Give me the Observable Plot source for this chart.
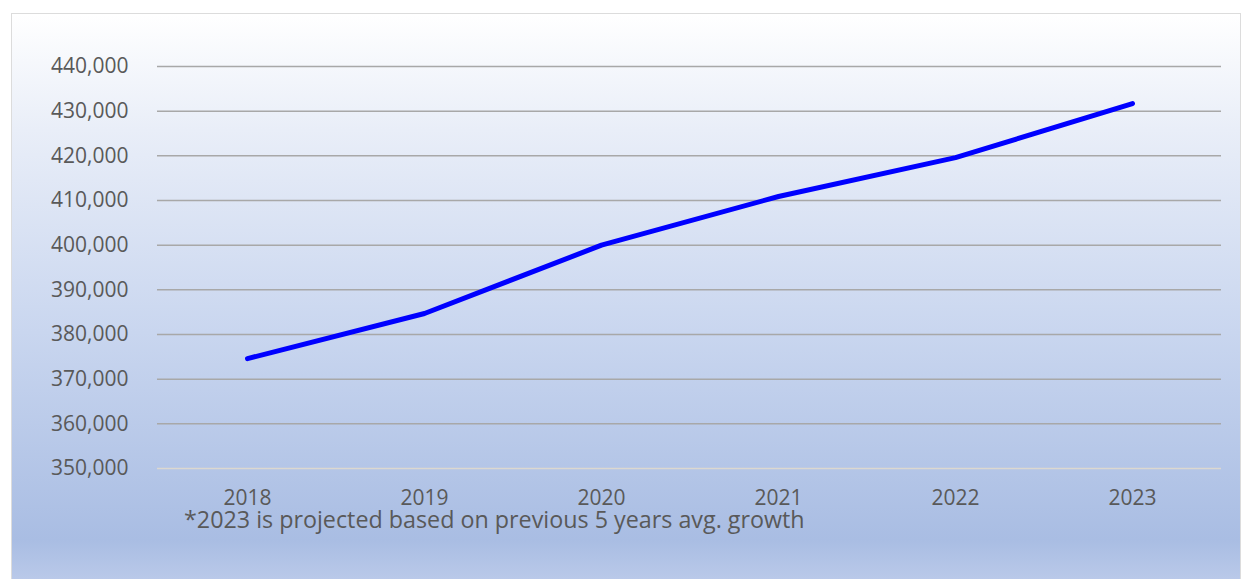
<!DOCTYPE html>
<html>
<head>
<meta charset="utf-8">
<script src="https://cdn.jsdelivr.net/npm/d3@7"></script>
<script src="https://cdn.jsdelivr.net/npm/@observablehq/plot@0.6"></script>
<style>
  html, body { margin: 0; padding: 0; background: #ffffff; }
  #wrap { position: relative; width: 1248px; height: 579px; overflow: hidden; }
  #frame {
    position: absolute; left: 11px; top: 13px; width: 1230px; height: 580px;
    border: 1.5px solid #dcdcdc; box-sizing: border-box;
    background: linear-gradient(to bottom, #ffffff 0%, #e9eef8 20%, #c9d6ef 55%, #a9bde3 91%, #bfcdeb 100%);
  }
  #chart { position: absolute; left: 0; top: 0; }
  #note {
    position: absolute; left: 184px; top: 508px; line-height: 1;
    font-family: "Open Sans", sans-serif; font-size: 23.3px; color: #595959; white-space: nowrap;
  }
</style>
</head>
<body>
<div id="wrap">
  <div id="frame"></div>
  <div id="chart"></div>
  <div id="note">*2023 is projected based on previous 5 years avg. growth</div>
</div>
<script>
const years = ["2018", "2019", "2020", "2021", "2022", "2023"];
const values = [374600, 384700, 400000, 410900, 419600, 431700];
const yTicks = [350000, 360000, 370000, 380000, 390000, 400000, 410000, 420000, 430000, 440000];

const data = years.map((y, i) => ({year: y, value: values[i]}));
const fmt = d3.format(",");

const plot = Plot.plot({
  width: 1248,
  height: 579,
  marginLeft: 157,
  marginRight: 27,
  marginTop: 66,
  marginBottom: 111,
  style: {background: "transparent", fontFamily: "Open Sans, sans-serif", fontSize: "17px", color: "#595959"},
  x: {type: "point", domain: years, padding: 0.5, label: null},
  y: {domain: [350000, 440000], label: null},
  marks: [
    Plot.ruleY(yTicks.filter(t => t !== 350000), {stroke: "#a8a8a8", strokeWidth: 1.5, strokeOpacity: 1}),
    Plot.ruleY([350000], {stroke: "#dcd8d0", strokeWidth: 1.5, strokeOpacity: 1}),
    Plot.axisY(yTicks, {tickSize: 0, tickPadding: 29, tickFormat: fmt, label: null, fontSize: 21, fill: "#595959"}),
    Plot.axisX(years, {tickSize: 0, tickPadding: 22, label: null, fontSize: 21, fill: "#595959"}),
    Plot.line(data, {x: "year", y: "value", stroke: "#0000ff", strokeWidth: 5, strokeLinecap: "round", strokeLinejoin: "round"})
  ]
});
document.getElementById("chart").appendChild(plot);
</script>
</body>
</html>
